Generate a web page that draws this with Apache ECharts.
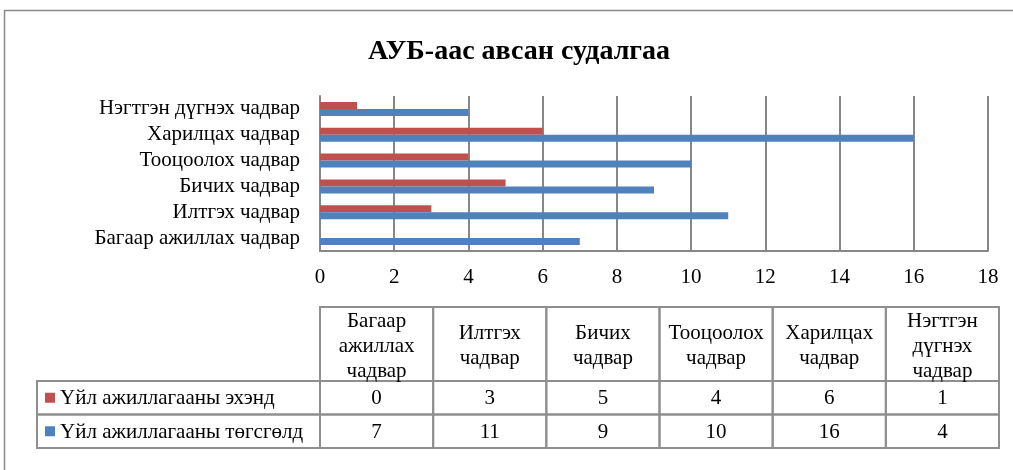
<!DOCTYPE html>
<html>
<head>
<meta charset="utf-8">
<script src="https://cdn.jsdelivr.net/npm/echarts@6/dist/echarts.min.js"></script>
<style>
  html, body { margin: 0; padding: 0; background: #ffffff; }
  #chart { width: 1013px; height: 470px; }
</style>
</head>
<body>
<div id="chart"></div>
<script>
// Survey categories, bottom-to-top on the bar axis, left-to-right in the table
const categories = [
  'Багаар ажиллах чадвар',
  'Илтгэх чадвар',
  'Бичих чадвар',
  'Тооцоолох чадвар',
  'Харилцах чадвар',
  'Нэгтгэн дүгнэх чадвар'
];
const seriesNames = ['Үйл ажиллагааны эхэнд', 'Үйл ажиллагааны төгсгөлд'];
const startValues = [0, 3, 5, 4, 6, 1];
const endValues = [7, 11, 9, 10, 16, 4];
const chartTitle = 'АУБ-аас авсан судалгаа';
const axisMin = 0, axisMax = 18, axisStep = 2;

const colors = ['#C0504D', '#4F81BD'];
const serif = '"Liberation Serif", "Times New Roman", serif';
const gridColor = '#878787';
const tableLine = '#8f8f8f';
const FONT = 21;

const chart = echarts.init(document.getElementById('chart'), null, { renderer: 'canvas' });

// Data table below the plot: one custom item per column
const tableData = categories.map((c, i) => [i, startValues[i], endValues[i]]);
const LEGEND_W = 283;

function renderTable(params, api) {
  const i = api.value(0);
  const cs = params.coordSys;
  const colW = api.size([1, 0])[0];
  const cx = api.coord([i, 0])[0];
  const x0 = cx - colW / 2;
  const headH = cs.height * 74 / 141;
  const rowH = (cs.height - headH) / 2;
  const y0 = cs.y, y1 = y0 + headH, y2 = y1 + rowH, y3 = cs.y + cs.height;
  const ls = { stroke: tableLine, lineWidth: 2, fill: null };
  const font = FONT + 'px ' + serif;
  const children = [
    { type: 'rect', shape: { x: x0, y: y0, width: colW, height: headH }, style: ls },
    { type: 'rect', shape: { x: x0, y: y1, width: colW, height: rowH }, style: ls },
    { type: 'rect', shape: { x: x0, y: y2, width: colW, height: y3 - y2 }, style: ls },
    { type: 'text', style: { text: categories[i].split(' ').join('\n'), x: cx, y: (y0 + y1) / 2 + 2,
        textAlign: 'center', textVerticalAlign: 'middle', font: font, lineHeight: 25, fill: '#000' } },
    { type: 'text', style: { text: String(api.value(1)), x: cx, y: (y1 + y2) / 2 + 1,
        textAlign: 'center', textVerticalAlign: 'middle', font: font, fill: '#000' } },
    { type: 'text', style: { text: String(api.value(2)), x: cx, y: (y2 + y3) / 2 + 1,
        textAlign: 'center', textVerticalAlign: 'middle', font: font, fill: '#000' } }
  ];
  if (i === 0) {
    const lx = x0 - LEGEND_W;
    [[y1, y2], [y2, y3]].forEach((r, k) => {
      const mid = (r[0] + r[1]) / 2;
      children.push(
        { type: 'rect', shape: { x: lx, y: r[0], width: LEGEND_W, height: r[1] - r[0] }, style: ls },
        { type: 'rect', shape: { x: lx + 8, y: mid - 5, width: 10, height: 10 }, style: { fill: colors[k] } },
        { type: 'text', style: { text: seriesNames[k], x: lx + 23, y: mid + 1,
            textAlign: 'left', textVerticalAlign: 'middle', font: font, fill: '#000' } }
      );
    });
  }
  return { type: 'group', children: children };
}

chart.setOption({
  animation: false,
  backgroundColor: '#ffffff',
  title: {
    text: chartTitle,
    left: 363,
    top: 33,
    textStyle: { fontFamily: serif, fontWeight: 'bold', fontSize: 28, color: '#000' }
  },
  graphic: [{
    type: 'rect',
    shape: { x: 4.5, y: 10.5, width: 1030, height: 480 },
    style: { stroke: '#8a8a8a', lineWidth: 1.5, fill: null },
    silent: true
  }],
  grid: [
    { left: 320, right: 25, top: 96, bottom: 219, containLabel: false },
    { left: 320, right: 14, top: 307, height: 141, containLabel: false }
  ],
  xAxis: [
    {
      type: 'value', gridIndex: 0,
      min: axisMin, max: axisMax, interval: axisStep,
      axisLine: { show: true, lineStyle: { color: gridColor, width: 2 } },
      axisTick: { show: false },
      axisLabel: { fontFamily: serif, fontSize: FONT, color: '#000', margin: 16 },
      splitLine: { show: true, lineStyle: { color: gridColor, width: 2 } }
    },
    {
      type: 'category', gridIndex: 1, data: categories,
      show: false
    }
  ],
  yAxis: [
    {
      type: 'category', gridIndex: 0, data: categories,
      axisLine: { show: true, lineStyle: { color: gridColor, width: 2 } },
      axisTick: { show: false },
      axisLabel: { fontFamily: serif, fontSize: FONT, color: '#000', margin: 20, interval: 0 }
    },
    { type: 'value', gridIndex: 1, show: false, min: 0, max: 1 }
  ],
  series: [
    {
      name: seriesNames[0], type: 'bar', xAxisIndex: 0, yAxisIndex: 0,
      data: startValues, barWidth: 7, barGap: '0%',
      itemStyle: { color: colors[0] }
    },
    {
      name: seriesNames[1], type: 'bar', xAxisIndex: 0, yAxisIndex: 0,
      data: endValues, barWidth: 7, barGap: '0%',
      itemStyle: { color: colors[1] }
    },
    {
      type: 'custom', xAxisIndex: 1, yAxisIndex: 1,
      data: tableData, renderItem: renderTable, clip: false,
      encode: { x: 0 }
    }
  ]
});
</script>
</body>
</html>
